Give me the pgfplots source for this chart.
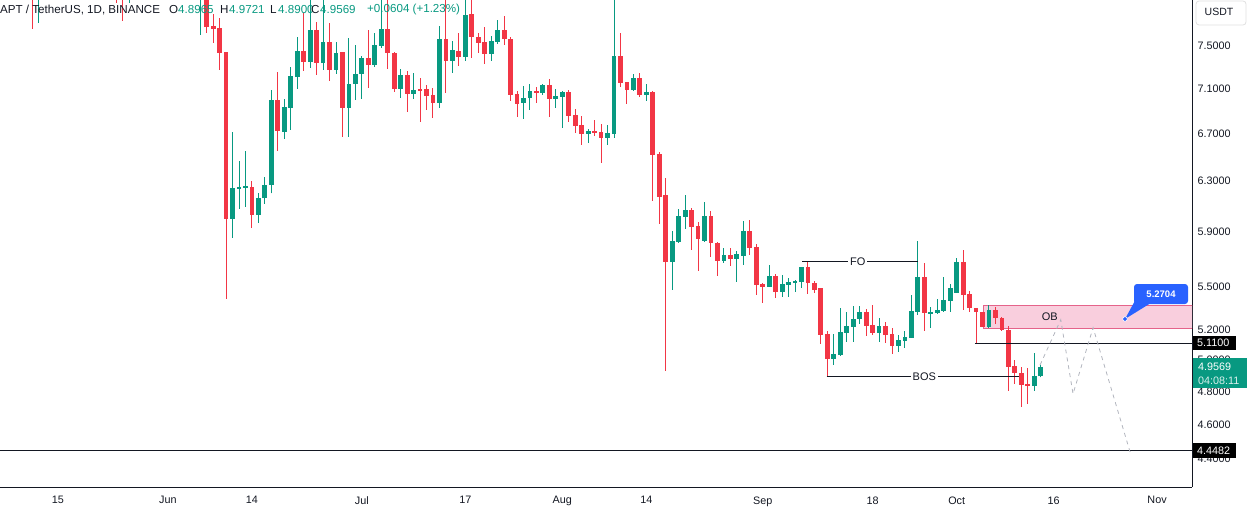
\documentclass[border=0pt]{standalone}
\usepackage{fontspec}
\setmainfont{Liberation Sans}
\usepackage{pgfplots}
\usepackage{pgfplotstable}
\pgfplotsset{compat=1.18}
\definecolor{cg}{HTML}{089981}
\definecolor{cr}{HTML}{F23645}
\definecolor{txt}{HTML}{131722}
\definecolor{obfill}{HTML}{F9CEDD}
\definecolor{obline}{HTML}{E5638A}
\definecolor{tvblue}{HTML}{2962FF}
\definecolor{proj}{HTML}{B2B5BE}

% day index: 0 = 15 May
\pgfplotstableread{
d o h l c
-3 8.00 8.25 7.73 8.20
11 7.98 8.10 7.93 8.05
22 7.98 8.20 7.61 8.10
27 6.000 6.712 5.855 6.245
28 6.237 6.467 6.078 6.253
29 6.245 6.550 6.094 6.261
31 6.03 6.20 5.97 6.16
32 6.16 6.33 6.12 6.27
33 6.27 7.086 6.20 6.995
35 6.712 7.004 6.652 6.932
36 6.923 7.299 6.730 7.215
37 7.206 7.588 7.095 7.452
39 7.347 8.00 7.290 7.656
41 7.337 8.00 7.271 7.539
43 7.271 7.539 7.234 7.433
45 6.923 7.578 6.669 7.141
46 7.141 7.510 6.995 7.234
47 7.234 7.404 7.004 7.385
49 7.318 7.627 7.299 7.510
50 7.500 8.00 7.481 7.666
53 7.095 7.281 7.013 7.225
55 7.050 7.243 7.004 7.086
59 6.968 7.696 6.923 7.568
61 7.356 7.549 7.243 7.461
63 7.394 8.00 7.356 7.806
67 7.423 7.597 7.356 7.549
68 7.539 7.756 7.519 7.656
72 6.968 7.123 6.826 7.013
73 7.013 7.141 6.906 7.077
75 7.059 7.141 7.040 7.132
77 7.004 7.095 6.923 7.031
78 7.022 7.077 6.747 7.068
82 6.695 6.738 6.618 6.721
85 6.660 6.773 6.601 6.703
86 6.695 8.00 6.660 7.404
89 7.086 7.234 7.077 7.197
91 7.040 7.141 6.986 7.068
95 5.677 5.908 5.476 5.832
96 5.825 6.078 5.817 6.023
97 6.015 6.189 5.923 6.070
100 5.832 6.133 5.825 6.023
103 5.684 5.780 5.670 5.728
105 5.699 5.758 5.533 5.735
106 5.721 5.984 5.655 5.908
110 5.497 5.655 5.497 5.576
112 5.462 5.583 5.427 5.518
113 5.511 5.561 5.427 5.533
114 5.526 5.547 5.462 5.540
115 5.533 5.641 5.490 5.641
120 5.008 5.174 4.969 5.042
121 5.036 5.350 5.027 5.187
122 5.181 5.323 5.121 5.228
123 5.221 5.364 5.121 5.275
124 5.275 5.364 5.241 5.323
127 5.181 5.282 5.121 5.228
130 5.095 5.167 5.055 5.134
131 5.128 5.194 5.082 5.154
132 5.147 5.441 5.147 5.330
133 5.323 5.832 5.302 5.569
135 5.309 5.357 5.214 5.323
136 5.316 5.413 5.309 5.337
137 5.330 5.569 5.323 5.406
138 5.399 5.518 5.323 5.490
139 5.455 5.706 5.455 5.677
144 5.221 5.371 5.214 5.337
151 4.837 5.049 4.806 4.899
152 4.8965 4.9721 4.8900 4.9569
}\greens

\pgfplotstableread{
d o h l c
-4 8.15 8.30 7.67 8.00
9 8.20 8.30 7.93 8.05
10 8.05 8.15 7.75 7.98
23 8.10 8.20 7.627 7.686
24 7.696 7.816 7.529 7.666
25 7.676 7.776 7.271 7.433
26 7.442 7.442 5.413 6.000
30 6.25 6.30 5.93 6.03
34 6.995 7.253 6.550 6.721
38 7.452 7.826 7.262 7.347
40 7.656 7.736 7.225 7.337
42 7.539 7.726 7.169 7.271
44 7.442 7.442 6.669 6.923
48 7.385 7.656 7.104 7.318
51 7.666 7.97 7.281 7.433
52 7.433 7.442 7.068 7.095
54 7.225 7.262 6.888 7.050
56 7.095 7.197 6.800 7.077
57 7.095 7.132 6.906 7.031
58 7.040 7.104 6.834 6.968
60 7.568 8.00 7.059 7.356
62 7.452 7.627 7.309 7.394
64 7.816 8.00 7.385 7.588
65 7.588 7.627 7.433 7.529
66 7.539 7.686 7.328 7.423
69 7.656 7.796 7.510 7.568
70 7.568 7.588 6.986 7.040
71 7.050 7.077 6.843 6.959
74 7.077 7.114 6.968 7.059
76 7.132 7.187 6.843 7.004
79 7.068 7.086 6.800 6.852
80 6.861 6.914 6.703 6.764
81 6.773 6.852 6.601 6.695
83 6.721 6.817 6.678 6.703
84 6.712 6.782 6.450 6.660
87 7.404 7.627 7.114 7.150
88 7.160 7.160 6.959 7.086
90 7.197 7.243 7.022 7.040
92 7.068 7.077 6.141 6.517
93 6.525 6.542 5.961 6.173
94 6.189 6.326 4.931 5.677
98 6.070 6.086 5.765 5.938
99 5.946 5.977 5.612 5.847
101 6.023 6.062 5.713 5.817
102 5.817 5.825 5.576 5.684
104 5.728 5.780 5.648 5.699
107 5.908 5.992 5.728 5.780
108 5.787 5.810 5.441 5.511
109 5.518 5.526 5.385 5.497
111 5.576 5.590 5.420 5.462
116 5.641 5.677 5.448 5.526
117 5.526 5.540 5.455 5.476
118 5.490 5.490 5.108 5.167
119 5.174 5.194 4.893 5.008
125 5.323 5.344 5.161 5.228
126 5.234 5.371 5.167 5.181
128 5.228 5.255 5.114 5.167
129 5.174 5.214 5.042 5.095
134 5.569 5.670 5.194 5.316
140 5.677 5.765 5.337 5.441
141 5.448 5.469 5.323 5.350
142 5.350 5.350 5.114 5.323
143 5.323 5.323 5.221 5.221
145 5.337 5.357 5.241 5.282
146 5.282 5.289 5.194 5.201
147 5.201 5.228 4.806 4.957
148 4.963 5.001 4.849 4.918
149 4.918 4.957 4.708 4.843
150 4.849 4.950 4.726 4.837
}\reds

\pgfplotsset{
  candle/.style={only marks, mark=*, mark size=0pt, mark options={draw=none, fill=none},
    error bars/.cd, y dir=plus, y explicit, error mark=none,
    error bar style={draw=#1, line width=1pt}},
  body/.style={only marks, mark=*, mark size=0pt, mark options={draw=none, fill=none},
    error bars/.cd, y dir=plus, y explicit, error mark=none,
    error bar style={draw=#1, line width=4.8pt}},
}

\begin{document}
\begin{tikzpicture}
\useasboundingbox (0pt,-25pt) rectangle (1247pt,487pt);
\begin{axis}[
  at={(0pt,0pt)}, anchor=south west, scale only axis,
  width=1192pt, height=487pt,
  xmin=-8.971, xmax=175.4,
  ymode=log, ymin=4.2455, ymax=7.9586,
  axis x line*=bottom, axis y line*=right,
  axis line style={txt, line width=0.9pt, -},
  major tick length=0pt, xminorticks=false, yminorticks=false,
  xtick={0,17,30,47,63,78,91,109,126,139,154,170},
  xticklabels={15,Jun,14,Jul,17,Aug,14,Sep,18,Oct,16,Nov},
  ytick={4.4,4.6,4.8,5.0,5.2,5.5,5.9,6.3,6.7,7.1,7.5},
  yticklabels={4.4000,4.6000,4.8000,5.0000,5.2000,5.5000,5.9000,6.3000,6.7000,7.1000,7.5000},
  xticklabel style={font=\fontsize{10.8}{12}\selectfont, text=txt, yshift=-6pt},
  yticklabel style={font=\fontsize{10.8}{12}\selectfont, text=txt, anchor=west, xshift=2pt},
  clip=true,
]
% order block zone
\fill[obfill] (axis cs:143.1,5.212) rectangle (axis cs:176,5.369);
\draw[obline, line width=0.9pt] (axis cs:143.1,5.212) -- (axis cs:176,5.212);
\draw[obline, line width=0.9pt] (axis cs:143.1,5.369) -- (axis cs:176,5.369);
\draw[obline, line width=0.9pt] (axis cs:143.1,5.212) -- (axis cs:143.1,5.369);

% wicks
\addplot[candle=cg] table[x=d, y=l, y error plus expr=\thisrow{h}-\thisrow{l}] {\greens};
\addplot[candle=cr] table[x=d, y=l, y error plus expr=\thisrow{h}-\thisrow{l}] {\reds};
% bodies
\addplot[body=cg] table[x=d, y=o, y error plus expr=\thisrow{c}-\thisrow{o}] {\greens};
\addplot[body=cr] table[x=d, y=c, y error plus expr=\thisrow{o}-\thisrow{c}] {\reds};

% levels
\addplot[txt, line width=1pt] coordinates {(-9,4.4482) (176,4.4482)};
\addplot[txt, line width=1pt] coordinates {(141.8,5.11) (176,5.11)};
\addplot[txt, line width=1pt] coordinates {(115.1,5.677) (133.0,5.677)};
\addplot[txt, line width=1pt] coordinates {(118.9,4.893) (148.6,4.893)};
\node[fill=white, inner sep=2pt, text=txt, font=\fontsize{11}{12}\selectfont] at (axis cs:123.7,5.677) {FO};
\node[fill=white, inner sep=2pt, text=txt, font=\fontsize{11}{12}\selectfont] at (axis cs:134.0,4.893) {BOS};
\node[text=txt, font=\fontsize{11}{12}\selectfont] at (axis cs:153.4,5.285) {OB};
% projection
\addplot[proj, line width=0.8pt, dash pattern=on 4pt off 4pt] coordinates {(151.9,4.969) (155.1,5.268) (157.0,4.787) (160.1,5.214) (165.8,4.444) (166.4,4.45)};
\end{axis}

% callout
\fill[tvblue] (1137pt,190pt) -- (1150pt,183.5pt) -- (1125pt,168pt) -- cycle;
\fill[tvblue, rounded corners=3pt] (1134pt,203pt) rectangle (1188pt,183pt);
\node[text=white, font=\bfseries\fontsize{9.5}{10}\selectfont] at (1161pt,193pt) {5.2704};
\fill[tvblue, draw=white, line width=0.6pt] (1125pt,168pt) circle (2.3pt);

% price labels
\fill[black] (1193pt,151pt) rectangle (1236pt,137pt);
\node[text=white, anchor=west, inner sep=0pt, font=\fontsize{10.8}{12}\selectfont] at (1197pt,144pt) {5.1100};
\fill[black] (1193pt,44pt) rectangle (1236pt,29pt);
\node[text=white, anchor=west, inner sep=0pt, font=\fontsize{10.8}{12}\selectfont] at (1197pt,36.5pt) {4.4482};
\fill[cg] (1193pt,129pt) rectangle (1247pt,99pt);
\node[text=white, anchor=west, inner sep=0pt, font=\fontsize{10.8}{12}\selectfont] at (1198pt,120.5pt) {4.9569};
\node[text=white, opacity=0.85, anchor=west, inner sep=0pt, font=\fontsize{10.8}{12}\selectfont] at (1198pt,106.5pt) {04:08:11};
% USDT box
\draw[draw=black!12, fill=white, rounded corners=3pt, line width=0.8pt] (1196pt,486pt) rectangle (1246pt,462pt);
\node[text=txt, font=\fontsize{10.5}{12}\selectfont] at (1219pt,475pt) {USDT};

% header
\begin{scope}[every node/.style={anchor=west, inner sep=0pt, font=\fontsize{11.6}{13}\selectfont}]
\node[text=txt] at (0pt,477pt) {APT / TetherUS, 1D, BINANCE};
\node[text=txt] at (169pt,477pt) {O};
\node[text=cg] at (178pt,477pt) {4.8965};
\node[text=txt] at (220pt,477pt) {H};
\node[text=cg] at (229pt,477pt) {4.9721};
\node[text=txt] at (270pt,477pt) {L};
\node[text=cg] at (278pt,477pt) {4.8900};
\node[text=txt] at (311pt,477pt) {C};
\node[text=cg] at (320pt,477pt) {4.9569};
\node[text=cg] at (367pt,477pt) {+0.0604 (+1.23\%)};
\end{scope}
\end{tikzpicture}
\end{document}
